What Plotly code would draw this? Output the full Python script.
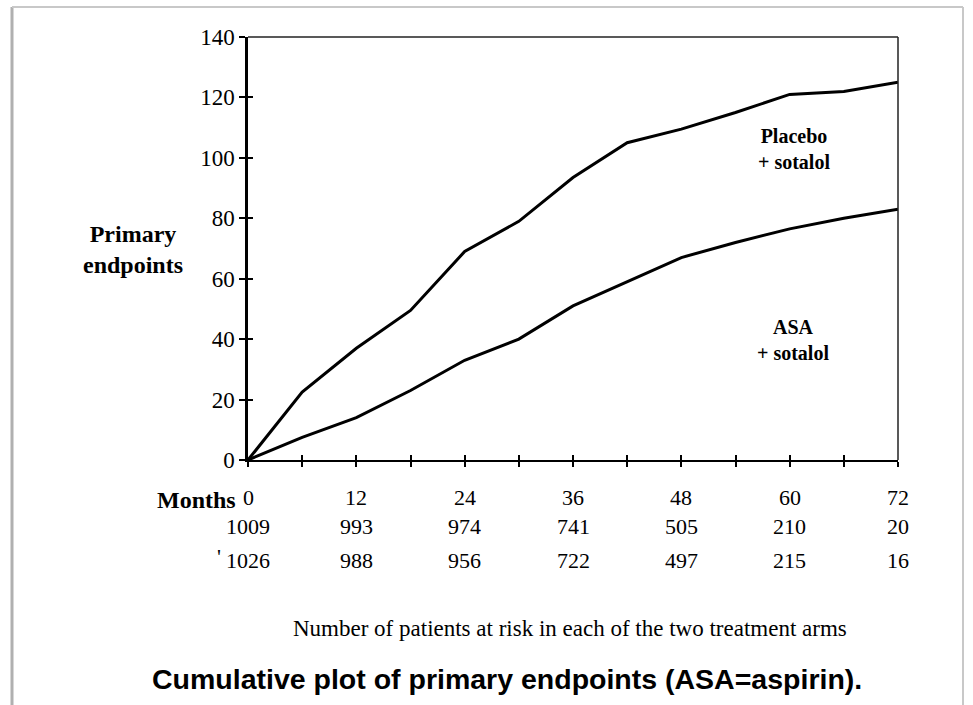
import plotly.graph_objects as go

# ---- data ----
months = [0, 6, 12, 18, 24, 30, 36, 42, 48, 54, 60, 66, 72]
placebo_sotalol = [0, 22.5, 37, 49.5, 69, 79, 93.5, 105, 109.5, 115, 121, 122, 125]
asa_sotalol = [0, 7.5, 14, 23, 33, 40, 51, 59, 67, 72, 76.5, 80, 83]

label_months = [0, 12, 24, 36, 48, 60, 72]
month_labels = ["0", "12", "24", "36", "48", "60", "72"]
at_risk_row1 = ["1009", "993", "974", "741", "505", "210", "20"]
at_risk_row2 = ["1026", "988", "956", "722", "497", "215", "16"]
y_ticks = [0, 20, 40, 60, 80, 100, 120, 140]
x_ticks = list(range(0, 73, 6))

W, H = 973, 705
L, R, T, B = 248, 75, 37, 245
plot_w = W - L - R
plot_h = H - T - B


def px(pix):
    """pixel column -> plot-paper x"""
    return (pix - L) / plot_w


def py(pix):
    """pixel row -> plot-paper y"""
    return (H - B - pix) / plot_h


serif = "Liberation Serif"
fig = go.Figure()
fig.add_trace(go.Scatter(x=months, y=placebo_sotalol, mode="lines",
                         line=dict(color="black", width=3), showlegend=False))
fig.add_trace(go.Scatter(x=months, y=asa_sotalol, mode="lines",
                         line=dict(color="black", width=3), showlegend=False))
# invisible trace on overlay axes that carry the inner half of the ticks
fig.add_trace(go.Scatter(x=[0], y=[0], xaxis="x2", yaxis="y2", mode="markers",
                         marker=dict(opacity=0), showlegend=False, hoverinfo="skip"))

fig.update_layout(
    width=W, height=H,
    margin=dict(l=L, r=R, t=T, b=B),
    paper_bgcolor="white", plot_bgcolor="white",
    font=dict(family=serif, color="black", size=22),
    xaxis=dict(range=[0, 72], tickvals=x_ticks, showticklabels=False,
               ticks="outside", ticklen=5, tickwidth=1.5, tickcolor="black",
               showline=True, linecolor="black", linewidth=2,
               showgrid=False, zeroline=False),
    yaxis=dict(range=[0, 140], tickvals=y_ticks,
               ticks="outside", ticklen=6, tickwidth=1.5, tickcolor="black",
               showline=True, linecolor="black", linewidth=2.5,
               showgrid=False, zeroline=False,
               tickfont=dict(family=serif, size=23)),
    xaxis2=dict(range=[0, 72], overlaying="x", tickvals=x_ticks, showticklabels=False,
                ticks="inside", ticklen=5, tickwidth=1.5, tickcolor="black",
                showgrid=False, zeroline=False, showline=False),
    yaxis2=dict(range=[0, 140], overlaying="y", tickvals=y_ticks, showticklabels=False,
                ticks="inside", ticklen=5, tickwidth=1.5, tickcolor="black",
                showgrid=False, zeroline=False, showline=False),
)

ann = []
for m, lab, a, b in zip(label_months, month_labels, at_risk_row1, at_risk_row2):
    for txt, row in ((lab, 498), (a, 526), (b, 560)):
        ann.append(dict(x=m, y=py(row), xref="x", yref="paper", text=txt,
                        showarrow=False, xanchor="center", yanchor="middle",
                        font=dict(family=serif, size=22)))

ann += [
    dict(x=px(219), y=py(556), xref="paper", yref="paper", text="'",
         showarrow=False, xanchor="center", yanchor="middle",
         font=dict(family=serif, size=22)),
    dict(x=px(238), y=py(500), xref="paper", yref="paper", text="<b>Months</b>",
         showarrow=False, xanchor="right", yanchor="middle",
         font=dict(family=serif, size=24)),
    dict(x=px(133), y=py(250), xref="paper", yref="paper",
         text="<b>Primary</b><br><b>endpoints</b>", showarrow=False,
         xanchor="center", yanchor="middle", align="center",
         font=dict(family=serif, size=24)),
    dict(x=px(794), y=py(149), xref="paper", yref="paper",
         text="<b>Placebo</b><br><b>+ sotalol</b>", showarrow=False,
         xanchor="center", yanchor="middle", align="center",
         font=dict(family=serif, size=20)),
    dict(x=px(793), y=py(340), xref="paper", yref="paper",
         text="<b>ASA</b><br><b>+ sotalol</b>", showarrow=False,
         xanchor="center", yanchor="middle", align="center",
         font=dict(family=serif, size=20)),
    dict(x=px(570), y=py(628), xref="paper", yref="paper",
         text="Number of patients at risk in each of the two treatment arms",
         showarrow=False, xanchor="center", yanchor="middle",
         font=dict(family=serif, size=23)),
    dict(x=px(507), y=py(679), xref="paper", yref="paper",
         text="<b>Cumulative plot of primary endpoints (ASA=aspirin).</b>",
         showarrow=False, xanchor="center", yanchor="middle",
         font=dict(family="Liberation Sans", size=28.5)),
]
fig.update_layout(annotations=ann)

# thinner top and right frame of the plot area
fig.add_shape(type="line", xref="paper", yref="paper", x0=0, x1=1, y0=1, y1=1,
              line=dict(color="#222222", width=1.5))
fig.add_shape(type="line", xref="paper", yref="paper", x0=1, x1=1, y0=0, y1=1,
              line=dict(color="#222222", width=1.5))

# grey page frame
fig.add_shape(type="line", xref="paper", yref="paper",
              x0=px(12), x1=px(12), y0=py(7), y1=py(705),
              line=dict(color="#b0b0b0", width=3))
fig.add_shape(type="line", xref="paper", yref="paper",
              x0=px(12), x1=px(963), y0=py(7), y1=py(7),
              line=dict(color="#c8c8c8", width=2))
fig.add_shape(type="line", xref="paper", yref="paper",
              x0=px(963), x1=px(963), y0=py(7), y1=py(705),
              line=dict(color="#c8c8c8", width=2))

fig.write_html("out.html")
